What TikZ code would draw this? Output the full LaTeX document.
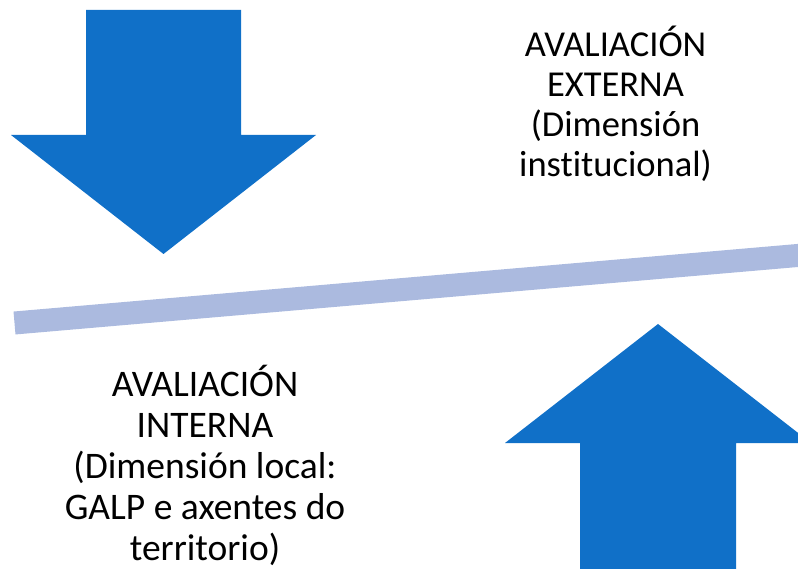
\documentclass[tikz,border=0pt]{standalone}
\usepackage{fontspec}
\setmainfont[Ligatures=NoCommon]{Carlito}
\definecolor{arrowblue}{HTML}{1070C8}
\definecolor{barblue}{HTML}{ABBADF}
\tikzset{
  bigarrow/.style={fill=arrowblue, draw=none},
  label/.style={align=center, inner sep=0pt, anchor=base, font=\fontsize{36.5}{40}\selectfont},
}
\begin{document}
\begin{tikzpicture}[x=1pt,y=-1pt]
	\useasboundingbox (0,0) rectangle (798,569) ;
	\clip (0,0) rectangle (798,569) ;
	% Down arrow
	\fill[bigarrow] (86,10) -- (241,10) -- (241,135) -- (316,135) -- (163.5,254) -- (11,135) -- (86,135) -- cycle ;
	% Balance bar
	\draw[barblue, line width=23pt, line cap=butt] (14.5,323) -- (830,252.7) ;
	% Up arrow
	\fill[bigarrow] (658,324) -- (811,443) -- (736,443) -- (736,600) -- (580,600) -- (580,443) -- (505,443) -- cycle ;
	% Labels (anchored at the last line's baseline)
	\node[label] (externa) at (615.5,177) {AVALIACIÓN\\EXTERNA\\(Dimensión\\institucional)} ;
	\node[label, font=\fontsize{37.5}{41}\selectfont] (interna) at (205,560) {AVALIACIÓN\\INTERNA\\(Dimensión local:\\GALP e axentes do\\territorio)} ;
\end{tikzpicture}
\end{document}
